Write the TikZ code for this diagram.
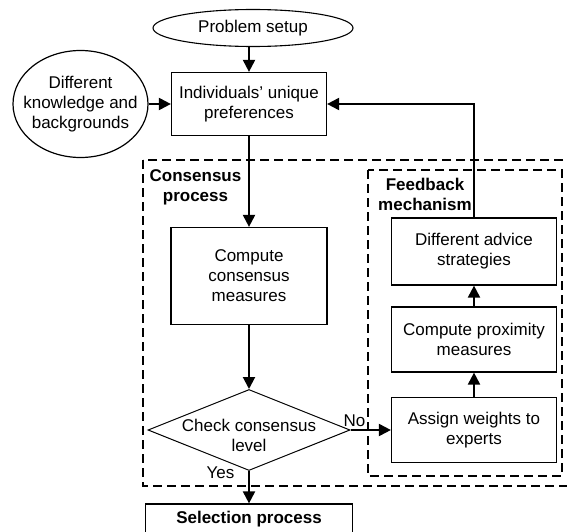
\documentclass[tikz,border=0pt]{standalone}
\usepackage{fontspec}
\setmainfont{Liberation Sans}
\usetikzlibrary{arrows.meta,shapes.geometric}
\begin{document}
\begin{tikzpicture}[x=1pt,y=-1pt,
  font=\fontsize{17}{20}\selectfont,
  box/.style={draw,line width=1.2pt,inner sep=0pt,align=center},
  txt/.style={align=center,inner sep=0pt},
  btxt/.style={align=center,inner sep=0pt,font=\fontsize{17}{20}\selectfont\bfseries},
  conn/.style={line width=2pt,-{Triangle[length=12pt,width=12pt]}},
  grp/.style={draw,line width=1.2pt,dash pattern=on 9pt off 5pt},
]
\clip (0,0) rectangle (567,532);
% groups
\draw[grp] (143,160) rectangle (580,486);
\draw[grp] (368,170) rectangle (562,476);
\node[btxt] (cpl) at (195.5,187) {Consensus\\process};
\node[btxt] (fml) at (425,194) {Feedback\\mechanism};
% nodes
\node[draw, ellipse, line width=1.1pt, minimum width=200pt, minimum height=37pt, inner sep=0pt] (ps) at (253,28) {Problem setup};
\node[draw, ellipse, line width=1.2pt, minimum width=135pt, minimum height=107pt, inner sep=0pt] (dk) at (80.5,104) {};
\node[txt] (dkt) at (dk) {Different\\knowledge and\\backgrounds};
\node[box, minimum width=155pt, minimum height=63pt] (ind) at (249,104) {Individuals’ unique\\preferences};
\node[box, minimum width=156pt, minimum height=97pt] (cc) at (249,276) {Compute\\consensus\\measures};
\node[draw, diamond, line width=1pt, minimum width=202pt, minimum height=81pt, inner sep=0pt] (chk) at (249,430) {};
\node[txt] (chkt) at (249,435) {Check consensus\\level};
\node[box, minimum width=165pt, minimum height=67pt] (da) at (474,251.5) {Different advice\\strategies};
\node[box, minimum width=165pt, minimum height=65pt] (cp) at (474,339.5) {Compute proximity\\measures};
\node[box, minimum width=165pt, minimum height=65pt] (aw) at (474,430) {Assign weights to\\experts};
\node[box, minimum width=207pt, minimum height=31pt] (sel) at (249,519.5) {\bfseries Selection process};
\node[txt] (no) at (354.5,421) {No};
\node[txt] (yes) at (220.5,473) {Yes};
% connectors
\draw[conn] (ind.north |- ps.south) -- (ind.north);
\draw[conn] (dk.east) -- (dk.east -| ind.west);
\draw[conn] (ind) -- (cc);
\draw[conn] (cc) -- (chk);
\draw[conn] (chk.east) -- (aw.west);
\draw[conn] (chk) -- (sel);
\draw[conn] (aw) -- (cp);
\draw[conn] (cp) -- (da);
\draw[conn] (da.north) |- (ind.east);
\end{tikzpicture}
\end{document}
